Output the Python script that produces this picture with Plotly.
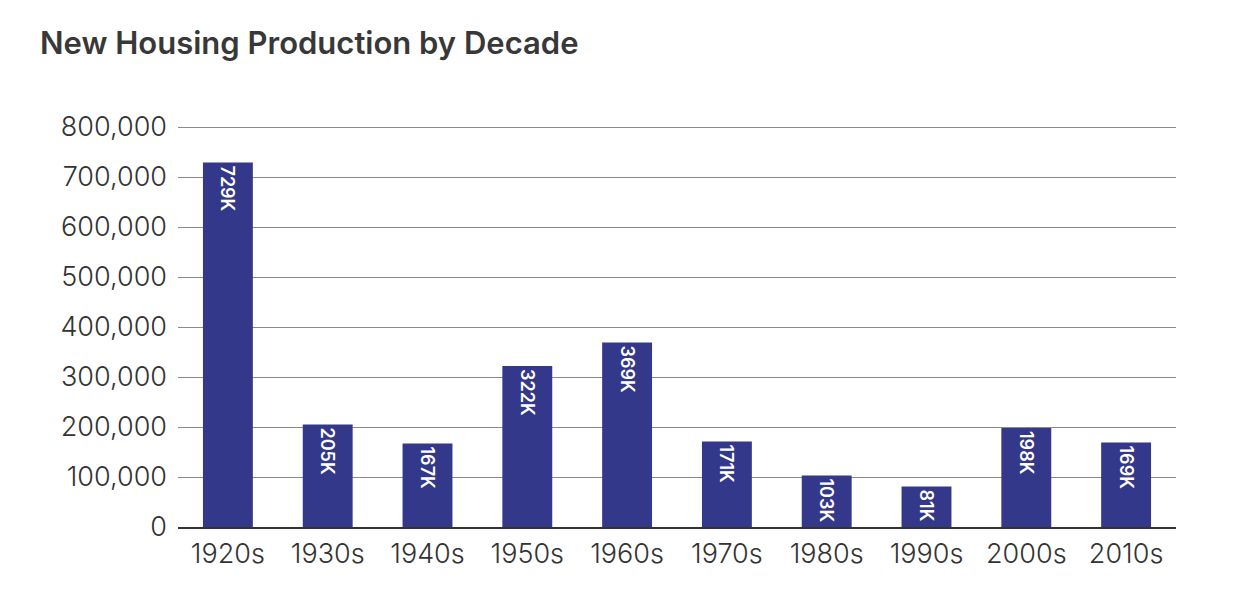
import plotly.graph_objects as go

decades = ["1920s", "1930s", "1940s", "1950s", "1960s", "1970s", "1980s", "1990s", "2000s", "2010s"]
units = [729000, 205000, 167000, 322000, 369000, 171000, 103000, 81000, 198000, 169000]
labels = ["729K", "205K", "167K", "322K", "369K", "171K", "103K", "81K", "198K", "169K"]
tick_vals = [0, 100000, 200000, 300000, 400000, 500000, 600000, 700000, 800000]
tick_text = ["0", "100,000", "200,000", "300,000", "400,000", "500,000", "600,000", "700,000", "800,000"]

fig = go.Figure(go.Bar(
    x=decades, y=units, text=labels,
    textposition="inside", insidetextanchor="end", textangle=90,
    textfont=dict(family="Inter", size=18, color="white", weight=600),
    marker=dict(color="#34388a", line=dict(width=0)),
    cliponaxis=False,
))

fig.update_layout(
    width=1257, height=603,
    paper_bgcolor="white", plot_bgcolor="white",
    margin=dict(l=170, r=89, t=117, b=84),
    bargap=0.5,
    showlegend=False,
    font=dict(family="Inter", color="#333333"),
    title=dict(text="New Housing Production by Decade", x=32/1257, xanchor="left",
               y=1-35/603, yanchor="middle",
               font=dict(family="Inter", size=31, color="#383838", weight=600)),
)
fig.update_xaxes(showgrid=False, showline=True, linecolor="#333333", linewidth=2,
                 ticks="", ticklabelstandoff=2,
                 tickfont=dict(size=27, color="#333333", weight=300))
fig.update_yaxes(range=[0, 804000], tickvals=tick_vals, ticktext=tick_text,
                 showgrid=True, gridcolor="#8a8a8a", gridwidth=1,
                 zeroline=False, showline=False, ticks="", ticklabelstandoff=10,
                 tickfont=dict(size=27, color="#333333", weight=300))

fig.write_html("out.html")
